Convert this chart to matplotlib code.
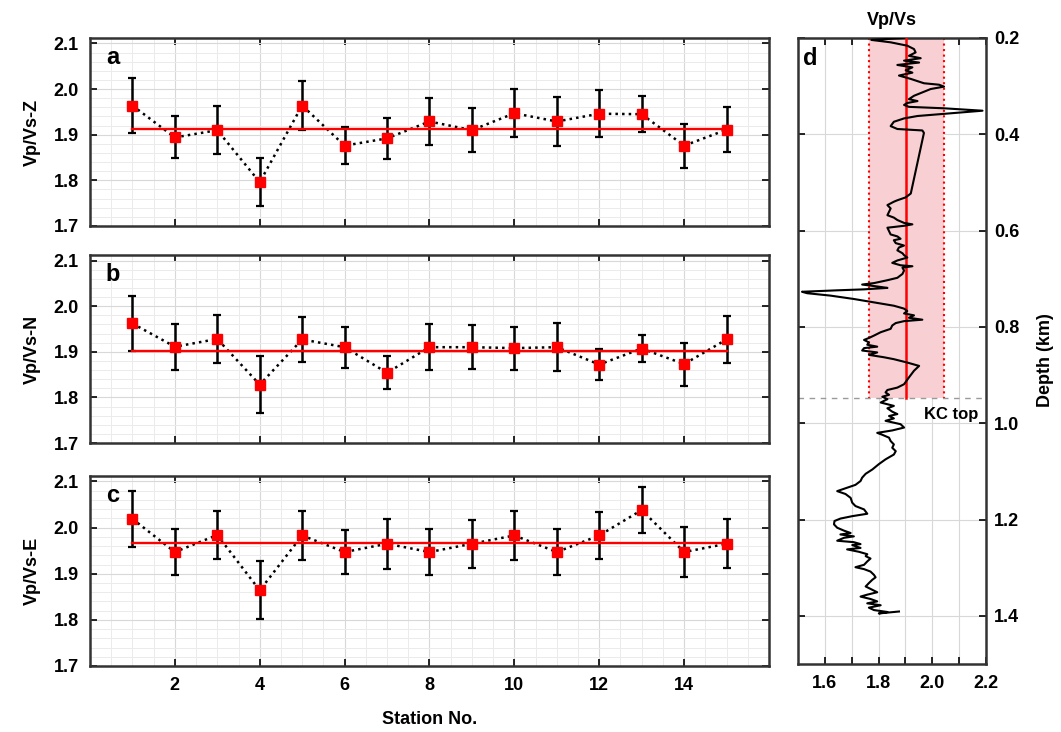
import numpy as np
import matplotlib.pyplot as plt
from matplotlib.ticker import MultipleLocator

plt.rcParams['font.family'] = ['Liberation Sans', 'DejaVu Sans']
plt.rcParams['font.weight'] = 'bold'

# Vp/Vs per station for the three components
station = np.arange(1, 16)

vpvs_z = [1.964, 1.894, 1.910, 1.796, 1.964, 1.876, 1.892, 1.929,
          1.910, 1.947, 1.929, 1.946, 1.945, 1.876, 1.911]
err_z = [0.060, 0.046, 0.052, 0.052, 0.054, 0.041, 0.045, 0.051,
         0.048, 0.053, 0.053, 0.051, 0.040, 0.048, 0.049]

vpvs_n = [1.962, 1.911, 1.928, 1.828, 1.927, 1.910, 1.854, 1.910,
          1.910, 1.908, 1.910, 1.872, 1.907, 1.873, 1.927]
err_n = [0.060, 0.050, 0.052, 0.062, 0.050, 0.045, 0.036, 0.050,
         0.048, 0.047, 0.052, 0.034, 0.029, 0.047, 0.052]

vpvs_e = [2.019, 1.947, 1.984, 1.864, 1.983, 1.947, 1.965, 1.947,
          1.965, 1.983, 1.947, 1.983, 2.038, 1.947, 1.965]
err_e = [0.060, 0.050, 0.052, 0.063, 0.053, 0.047, 0.054, 0.049,
         0.052, 0.053, 0.050, 0.051, 0.050, 0.055, 0.053]

# well log: depth (km) and Vp/Vs
depth_km = [
    0.200, 0.204, 0.209, 0.216, 0.223, 0.230, 0.237, 0.242, 0.247, 0.251,
    0.256, 0.261, 0.267, 0.272, 0.278, 0.285, 0.294, 0.297, 0.301, 0.306,
    0.313, 0.320, 0.327, 0.331, 0.335, 0.339, 0.343, 0.346, 0.351, 0.358,
    0.362, 0.367, 0.374, 0.383, 0.389, 0.392, 0.397,
    0.523, 0.531, 0.537, 0.540, 0.547, 0.554, 0.561, 0.568, 0.573, 0.578,
    0.584, 0.587, 0.590, 0.594, 0.601, 0.608, 0.612, 0.617, 0.620, 0.626,
    0.631, 0.635, 0.641, 0.647, 0.651, 0.656, 0.662, 0.667, 0.672, 0.674,
    0.677, 0.683, 0.690, 0.698, 0.703, 0.709, 0.712, 0.716, 0.719, 0.722,
    0.724, 0.727, 0.730, 0.735, 0.742, 0.749, 0.756, 0.762, 0.767, 0.772,
    0.776, 0.781, 0.785, 0.788, 0.792, 0.797, 0.804, 0.811, 0.818, 0.823,
    0.827, 0.832, 0.837, 0.841, 0.844, 0.849, 0.853, 0.858,
    0.863, 0.867, 0.874, 0.881, 0.891, 0.905, 0.919, 0.926, 0.931, 0.936,
    0.941, 0.945, 0.950, 0.957, 0.964, 0.969, 0.976, 0.981, 0.985, 0.990,
    0.995, 1.002, 1.009, 1.015, 1.020, 1.024, 1.030, 1.037, 1.044, 1.051,
    1.058, 1.065, 1.075, 1.085, 1.096, 1.105, 1.113, 1.120, 1.128, 1.134,
    1.141, 1.147, 1.155, 1.165, 1.172, 1.179, 1.188,
    1.193, 1.198, 1.203, 1.210, 1.217, 1.223, 1.228, 1.231, 1.235, 1.238,
    1.244, 1.247, 1.251, 1.253, 1.259, 1.262, 1.267, 1.272, 1.276, 1.281,
    1.287, 1.294, 1.299, 1.303, 1.308, 1.315, 1.320, 1.325, 1.332, 1.339,
    1.346, 1.351, 1.356, 1.360, 1.365, 1.370, 1.374, 1.378, 1.383, 1.388,
    1.392, 1.395, 1.391,
]
vpvs_log = [
    1.895, 1.773, 1.845, 1.907, 1.932, 1.938, 1.913, 1.957, 1.895, 1.951,
    1.870, 1.926, 1.901, 1.926, 1.876, 1.920, 1.969, 2.025, 2.044, 1.994,
    1.963, 1.932, 1.913, 1.945, 1.907, 1.895, 1.913, 2.044, 2.187, 2.032,
    1.945, 1.895, 1.857, 1.845, 1.870, 1.963, 1.969,
    1.920, 1.901, 1.870, 1.857, 1.833, 1.845, 1.839, 1.833, 1.857, 1.870,
    1.895, 1.926, 1.895, 1.833, 1.839, 1.845, 1.870, 1.882, 1.857, 1.864,
    1.895, 1.876, 1.870, 1.889, 1.895, 1.907, 1.870, 1.851, 1.882, 1.926,
    1.889, 1.895, 1.889, 1.870, 1.833, 1.783, 1.739, 1.795, 1.833, 1.746,
    1.646, 1.515, 1.534, 1.621, 1.708, 1.783, 1.857, 1.895, 1.907, 1.895,
    1.932, 1.913, 1.963, 1.895, 1.864, 1.851, 1.845, 1.808, 1.783, 1.764,
    1.746, 1.764, 1.758, 1.795, 1.746, 1.739, 1.795, 1.764,
    1.820, 1.857, 1.907, 1.951, 1.932, 1.913, 1.895, 1.870, 1.833, 1.826,
    1.839, 1.814, 1.833, 1.808, 1.857, 1.833, 1.851, 1.870, 1.839, 1.857,
    1.826, 1.882, 1.895, 1.851, 1.795, 1.814, 1.839, 1.845, 1.857, 1.851,
    1.864, 1.857, 1.826, 1.801, 1.777, 1.752, 1.739, 1.733, 1.714, 1.683,
    1.646, 1.677, 1.696, 1.702, 1.714, 1.746, 1.758,
    1.702, 1.658, 1.636, 1.634, 1.646, 1.671, 1.696, 1.658, 1.708, 1.671,
    1.646, 1.708, 1.733, 1.702, 1.733, 1.683, 1.727, 1.758, 1.752, 1.770,
    1.758, 1.746, 1.714, 1.746, 1.770, 1.783, 1.789, 1.777, 1.764, 1.752,
    1.777, 1.795, 1.758, 1.733, 1.770, 1.795, 1.758, 1.808, 1.764, 1.783,
    1.833, 1.801, 1.876,
]

kc_top = 0.947
log_mean = 1.903
log_std = 0.14

fig = plt.figure(figsize=(10.61, 7.32), dpi=100)

spine_col = '#333333'
panels = [
    (vpvs_z, err_z, 'Vp/Vs-Z', 'a', [0.0848, 0.6913, 0.640, 0.2568]),
    (vpvs_n, err_n, 'Vp/Vs-N', 'b', [0.0848, 0.3948, 0.640, 0.2568]),
    (vpvs_e, err_e, 'Vp/Vs-E', 'c', [0.0848, 0.0902, 0.640, 0.2596]),
]

for i, (vals, errs, ylab, letter, rect) in enumerate(panels):
    ax = fig.add_axes(rect)
    ax.plot(station, vals, ':', color='k', lw=1.8, zorder=2)
    ax.errorbar(station, vals, yerr=errs, fmt='none', ecolor='k',
                elinewidth=1.8, capsize=3, capthick=1.6, zorder=3)
    ax.plot([station[0], station[-1]], [np.mean(vals)] * 2,
            color='red', lw=1.7, zorder=4)
    ax.plot(station, vals, 's', color='red', ms=7.5, zorder=5)

    ax.set_xlim(0, 16)
    ax.set_ylim(1.7, 2.112)
    ax.set_xticks([2, 4, 6, 8, 10, 12, 14])
    ax.xaxis.set_minor_locator(MultipleLocator(0.5))
    ax.set_yticks([1.7, 1.8, 1.9, 2.0, 2.1])
    ax.yaxis.set_minor_locator(MultipleLocator(0.02))
    ax.grid(which='major', color='#d8d8d8', lw=0.8)
    ax.grid(which='minor', color='#ebebeb', lw=0.7)
    ax.set_axisbelow(True)
    ax.tick_params(which='major', direction='in', top=True, right=True,
                   length=5, width=1.2, labelsize=13, pad=8)
    ax.tick_params(which='minor', length=0)
    for s in ax.spines.values():
        s.set_linewidth(1.8)
        s.set_color(spine_col)
    ax.set_ylabel(ylab, fontsize=13, fontweight='bold', labelpad=9)
    ax.text(0.034, 0.895, letter, transform=ax.transAxes, fontsize=17,
            fontweight='bold', ha='center', va='center')
    if i < 2:
        ax.tick_params(labelbottom=False)
    else:
        ax.set_xlabel('Station No.', fontsize=13, fontweight='bold', labelpad=12)

# depth profile
axd = fig.add_axes([0.7521, 0.0929, 0.1772, 0.8552])
axd.fill_betweenx([0.2, kc_top], log_mean - log_std, log_mean + log_std,
                  color='#f8cfd2', lw=0, zorder=1)
for xv in (log_mean - log_std, log_mean + log_std):
    axd.plot([xv, xv], [0.2, kc_top], ':', color='red', lw=1.5, zorder=2)
axd.plot([log_mean, log_mean], [0.2, kc_top], color='red', lw=1.8, zorder=3)
axd.axhline(kc_top, color='#9a9a9a', ls=(0, (4, 4)), lw=1.0, zorder=2)
axd.plot(vpvs_log, depth_km, color='k', lw=1.5, zorder=4)
axd.text(2.172, 0.981, 'KC top', fontsize=12, fontweight='bold',
         ha='right', va='center')
axd.text(0.064, 0.968, 'd', transform=axd.transAxes, fontsize=17,
         fontweight='bold', ha='center', va='center')

axd.set_xlim(1.5, 2.2)
axd.set_ylim(1.5, 0.2)
xt = [1.6, 1.7, 1.8, 1.9, 2.0, 2.1, 2.2]
axd.set_xticks(xt)
axd.set_xticklabels(['1.6', '', '1.8', '', '2.0', '', '2.2'])
axd.set_yticks([0.2, 0.4, 0.6, 0.8, 1.0, 1.2, 1.4])
axd.yaxis.tick_right()
axd.yaxis.set_label_position('right')
axd.tick_params(direction='in', top=True, left=True, right=True,
                length=5, width=1.2, labelsize=13, pad=6)
axd.tick_params(axis='x', pad=8)
axd.grid(color='#d8d8d8', lw=0.8)
axd.set_axisbelow(True)
for s in axd.spines.values():
    s.set_linewidth(1.8)
    s.set_color(spine_col)
axd.set_title('Vp/Vs', fontsize=13, fontweight='bold', pad=9)
axd.set_ylabel('Depth (km)', fontsize=13, fontweight='bold', rotation=90)
axd.yaxis.set_label_coords(1.27, 0.486)

fig.savefig('out.png', dpi=100)
